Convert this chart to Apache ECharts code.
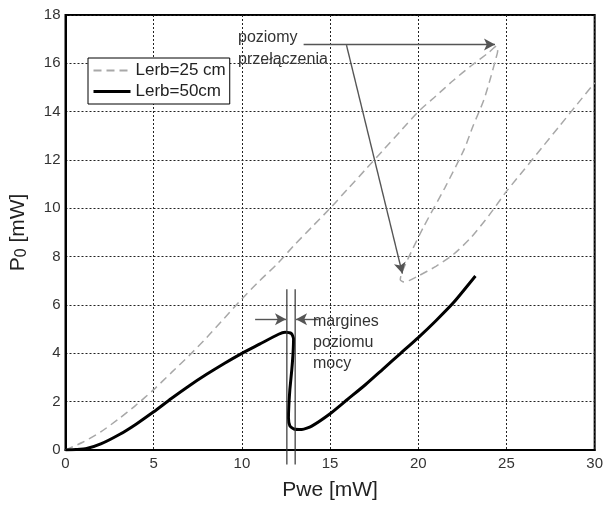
<!DOCTYPE html>
<html><head><meta charset="utf-8">
<script src="https://cdn.jsdelivr.net/npm/echarts@6/dist/echarts.min.js"></script>
<style>html,body{margin:0;padding:0;background:#fff}#c{width:606px;height:506px}</style>
</head><body><div id="c"></div>
<script>
// Lerb=25 cm (dashed) hysteresis curve: [Pwe, Po]
const lerb25 = [
  [0,0],[1,0.33],[2,0.75],[3,1.28],[4,1.86],[5,2.5],[6,3.2],[7,3.9],[8,4.65],[9,5.45],[10,6.25],
  [11,7.0],[12,7.7],[13,8.5],[14,9.25],[15,10.0],[16,10.8],[17,11.6],[18,12.4],[19,13.2],
  [20,14.0],[21,14.65],[22,15.3],[23,15.9],[24,16.45],[24.45,16.72],
  [24.5,16.5],[24.4,16.2],[24.1,15.4],[23.7,14.45],[23.1,13.4],[22.6,12.44],[21.5,10.84],
  [20.3,9.23],[19.4,7.89],[19.05,7.3],[18.98,7.05],[19.2,6.95],[19.6,7.05],
  [20,7.2],[21,7.6],[22,8.1],[23,8.8],[24,9.7],[25,10.7],[26,11.6],[27,12.5],[28,13.4],[29,14.3],[30,15.2]
];
// Lerb=50cm (solid) curve
const lerb50 = [
  [0,0],[0.6,0.02],[1.2,0.06],[2,0.25],[3.08,0.65],[4,1.07],[5,1.58],[6,2.13],[7,2.65],
  [8,3.13],[9,3.58],[10,4.0],[11,4.38],[12.08,4.79],[12.45,4.87],[12.8,4.82],[12.93,4.6],
  [12.9,4.0],[12.83,3.33],[12.72,2.5],[12.66,1.8],[12.64,1.33],[12.72,1.0],[12.95,0.87],[13.4,0.85],
  [13.96,0.99],[15,1.5],[16,2.1],[17,2.7],[18,3.35],[19,4.0],[20,4.65],[21,5.35],[22,6.1],[23.24,7.2]
];
// margin lines (vertical) and arrows
const marginLineA = [[12.55,6.65],[12.55,-0.6]];
const marginLineB = [[13.02,6.65],[13.02,-0.6]];
const arrowLeft = [[10.75,5.41],[12.5,5.41]];
const arrowRight = [[14.35,5.41],[13.07,5.41]];
const arrowTop = [[13.5,16.78],[24.35,16.78]];
const arrowDown = [[15.93,16.75],[19.1,7.3]];

const xTicks = {min:0, max:30, interval:5};
const yTicks = {min:0, max:18, interval:2};

const chart = echarts.init(document.getElementById('c'), null, {renderer:'canvas'});
const font = 'Liberation Sans, Arial, sans-serif';
const arrowColor = '#555';
function arrowLine(pts){
  return {
    type:'line', data:[], silent:true, symbol:'none',
    markLine:{silent:true, symbol:['none','arrow'], symbolSize:[9,11],
      lineStyle:{color:arrowColor, width:1.4, type:'solid'}, label:{show:false},
      data:[[{coord:pts[0]},{coord:pts[1]}]]}
  };
}
chart.setOption({
  animation:false,
  backgroundColor:'#fff',
  grid:{left:62, right:11, top:15, bottom:43, show:true, borderColor:'#000', borderWidth:2, backgroundColor:'transparent'},
  legend:{
    left:88, top:58, orient:'vertical', backgroundColor:'#fff', borderColor:'#000', borderWidth:1,
    padding:[4,4,4,4], itemGap:4, itemWidth:37, itemHeight:16,
    itemStyle:{opacity:0},
    textStyle:{fontFamily:font, fontSize:17, color:'#222'},
    data:[{name:'Lerb=25 cm'},{name:'Lerb=50cm', lineStyle:{width:3}}]
  },
  xAxis:{
    type:'value', min:xTicks.min, max:xTicks.max, interval:xTicks.interval,
    name:'Pwe [mW]', nameLocation:'middle', nameGap:30,
    nameTextStyle:{fontFamily:font, fontSize:21, color:'#222'},
    axisLine:{show:true, lineStyle:{color:'#000', width:2}},
    axisTick:{show:false},
    axisLabel:{fontFamily:font, fontSize:15, color:'#333', margin:6},
    splitLine:{show:true, lineStyle:{color:'#222', width:1, type:[2,2]}}
  },
  yAxis:{
    type:'value', min:yTicks.min, max:yTicks.max, interval:yTicks.interval,
    name:'{a|P}{b|0}{a| [mW]}', nameLocation:'middle', nameGap:36,
    nameTextStyle:{rich:{a:{fontFamily:font, fontSize:21, color:'#222'}, b:{fontFamily:font, fontSize:16, color:'#222', padding:[6,0,0,0]}}},
    axisLine:{show:true, lineStyle:{color:'#000', width:2}},
    axisTick:{show:false},
    axisLabel:{fontFamily:font, fontSize:15, color:'#333', margin:5},
    splitLine:{show:true, lineStyle:{color:'#222', width:1, type:[2,2]}}
  },
  series:[
    {name:'Lerb=25 cm', type:'line', data:lerb25, symbol:'none', smooth:0.25, z:2,
     lineStyle:{color:'#a8a8a8', width:1.5, type:[8,5]}, itemStyle:{color:'#a8a8a8'}},
    {name:'Lerb=50cm', type:'line', data:lerb50, symbol:'none', smooth:0.2, z:3,
     lineStyle:{color:'#000', width:3}, itemStyle:{color:'#000'}},
    {type:'line', data:marginLineA, symbol:'none', clip:false, silent:true, z:4, lineStyle:{color:'#333', width:1.2}},
    {type:'line', data:marginLineB, symbol:'none', clip:false, silent:true, z:4, lineStyle:{color:'#333', width:1.2}},
    arrowLine(arrowLeft), arrowLine(arrowRight), arrowLine(arrowTop), arrowLine(arrowDown)
  ],
  graphic:[
    {type:'text', left:238, top:27, z:10, style:{text:'poziomy\nprzełączenia', font:'16px '+font, fill:'#333', lineHeight:22}},
    {type:'text', left:313, top:311, z:10, style:{text:'margines\npoziomu\nmocy', font:'16px '+font, fill:'#333', lineHeight:21}}
  ]
});
</script></body></html>
